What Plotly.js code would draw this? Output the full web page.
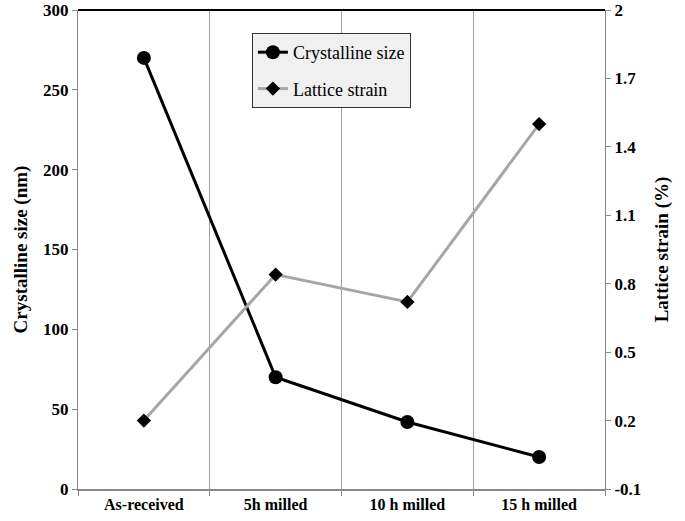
<!DOCTYPE html>
<html>
<head>
<meta charset="utf-8">
<script src="https://cdn.plot.ly/plotly-3.0.1.min.js"></script>
<style>
  html, body { margin: 0; padding: 0; background: #fff; }
  #chart { width: 685px; height: 521px; }
</style>
</head>
<body>
<div id="chart"></div>
<script>
const categories = ['As-received', '5h milled', '10 h milled', '15 h milled'];
const crystallineSize = [270, 70, 42, 20];     // nm, left axis
const latticeStrain = [0.2, 0.84, 0.72, 1.5];  // %, right axis
const strainTicks = [-0.1, 0.2, 0.5, 0.8, 1.1, 1.4, 1.7, 2];

const FONT = 'Liberation Serif, Times New Roman, serif';

const traces = [
  {
    x: categories, y: crystallineSize,
    name: 'Crystalline size', legendgroup: 'a',
    mode: 'lines+markers',
    line: {color: '#000', width: 3},
    marker: {symbol: 'circle', size: 14, color: '#000'}
  },
  {
    x: categories, y: latticeStrain,
    name: 'Lattice strain', legendgroup: 'b',
    yaxis: 'y2',
    mode: 'lines+markers',
    line: {color: '#a6a6a6', width: 3},
    marker: {symbol: 'diamond', size: 11, color: '#000'}
  }
];

const layout = {
  width: 685, height: 521,
  margin: {l: 78, r: 80, t: 10, b: 32},
  paper_bgcolor: '#fff', plot_bgcolor: '#fff',
  font: {family: FONT, color: '#000'},
  showlegend: true,
  legend: {
    x: 0.33, y: 0.952, xanchor: 'left', yanchor: 'top',
    bgcolor: '#f0f0f0', bordercolor: '#333', borderwidth: 1,
    font: {family: FONT, size: 18, color: '#000'},
    itemwidth: 30, tracegroupgap: 10
  },
  xaxis: {
    type: 'category',
    tickson: 'boundaries',
    range: [-0.5, 3.5],
    showgrid: true, gridcolor: '#a0a0a0', gridwidth: 1,
    showline: true, linecolor: '#888', linewidth: 2,
    ticks: 'outside', ticklen: 5, tickcolor: '#888',
    tickfont: {family: FONT, size: 16, color: '#000', weight: 'bold'},
    zeroline: false, fixedrange: true
  },
  yaxis: {
    range: [0, 300], dtick: 50,
    showgrid: false, zeroline: false,
    showline: true, linecolor: '#888', linewidth: 1,
    ticks: 'outside', ticklen: 5, tickcolor: '#888',
    tickfont: {family: FONT, size: 17, color: '#000', weight: 'bold'},
    title: {text: 'Crystalline size (nm)', standoff: 10,
            font: {family: FONT, size: 19, color: '#000', weight: 'bold'}}
  },
  yaxis2: {
    overlaying: 'y', side: 'right',
    range: [-0.1, 2],
    tickvals: strainTicks,
    ticktext: strainTicks.map(String),
    showgrid: false, zeroline: false,
    showline: true, linecolor: '#888', linewidth: 1,
    ticks: 'outside', ticklen: 5, tickcolor: '#888',
    tickfont: {family: FONT, size: 17, color: '#000', weight: 'bold'},
    title: {text: 'Lattice strain (%)', standoff: 14,
            font: {family: FONT, size: 19, color: '#000', weight: 'bold'}}
  },
  shapes: [
    // black frame line along the top of the plot area
    {type: 'line', xref: 'paper', yref: 'paper', x0: 0, x1: 1, y0: 1, y1: 1,
     line: {color: '#000', width: 2}}
  ]
};

Plotly.newPlot('chart', traces, layout, {displayModeBar: false, staticPlot: true});
</script>
</body>
</html>
